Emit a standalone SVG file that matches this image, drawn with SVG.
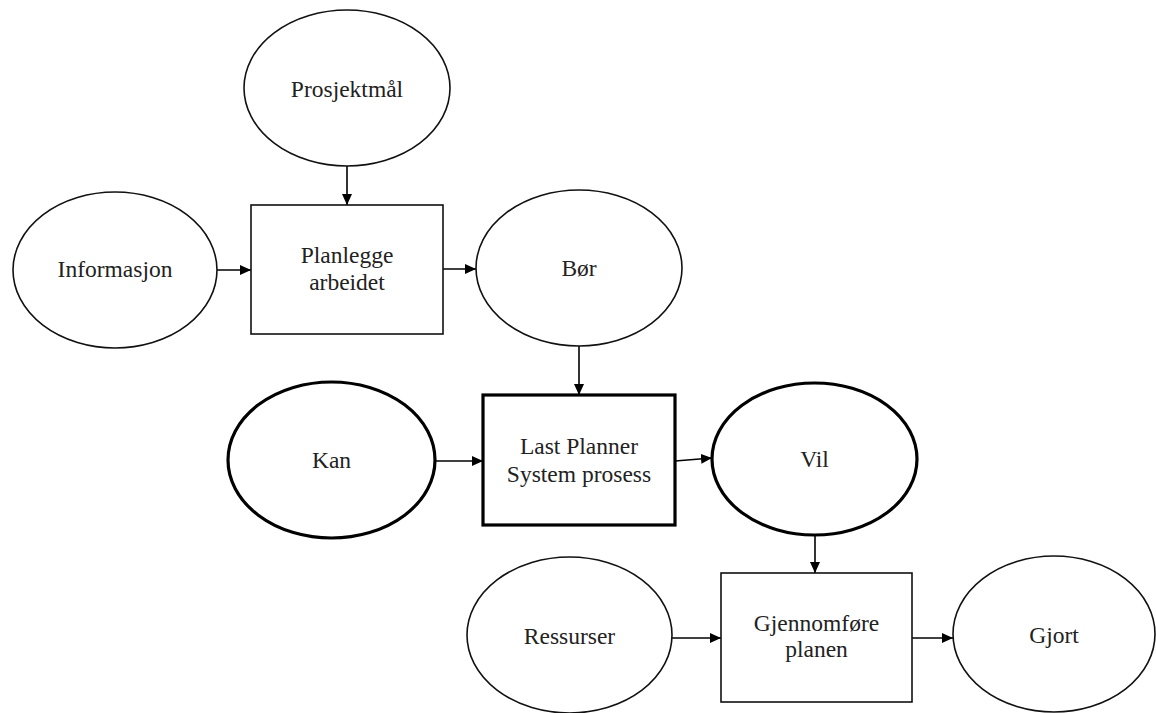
<svg xmlns="http://www.w3.org/2000/svg" width="1156" height="713" viewBox="0 0 1156 713">
<style>
.n{fill:#fff;stroke:#111;stroke-width:1.6}
.b{fill:#fff;stroke:#000;stroke-width:3.2}
.t{font-family:"Liberation Serif","Times New Roman",serif;font-size:23.5px;fill:#222;text-anchor:middle}
.c{stroke:#000;stroke-width:1.6;fill:none;marker-end:url(#ah)}
</style>
<defs>
<marker id="ah" markerUnits="userSpaceOnUse" markerWidth="12" markerHeight="10" refX="11" refY="5" orient="auto">
<path d="M0,0 L11,5 L0,10 Z" fill="#000"/>
</marker>
</defs>
<rect width="1156" height="713" fill="#fff"/>
<g id="connectors">
<line class="c" x1="347" y1="166" x2="347" y2="205"/>
<line class="c" x1="217" y1="270" x2="251" y2="270"/>
<line class="c" x1="443" y1="269" x2="476" y2="269"/>
<line class="c" x1="579" y1="346" x2="579" y2="395"/>
<line class="c" x1="435" y1="461" x2="483" y2="461"/>
<line class="c" x1="675" y1="461" x2="712" y2="458"/>
<line class="c" x1="815" y1="535" x2="815" y2="573"/>
<line class="c" x1="672" y1="638" x2="721" y2="638"/>
<line class="c" x1="912" y1="638" x2="953" y2="638"/>
</g>
<g id="prosjektmal">
<ellipse class="n" cx="347" cy="88" rx="103" ry="78"/>
<text class="t" x="347" y="97">Prosjektmål</text>
</g>
<g id="informasjon">
<ellipse class="n" cx="115" cy="270" rx="102" ry="78"/>
<text class="t" x="115" y="277">Informasjon</text>
</g>
<g id="planlegge">
<rect class="n" x="251" y="205" width="192" height="129"/>
<text class="t" x="347" y="263">Planlegge</text>
<text class="t" x="347" y="290">arbeidet</text>
</g>
<g id="bor">
<ellipse class="n" cx="579" cy="268" rx="103" ry="78"/>
<text class="t" x="579" y="276">Bør</text>
</g>
<g id="kan">
<ellipse class="b" cx="331.5" cy="460" rx="103.5" ry="78"/>
<text class="t" x="331.5" y="468">Kan</text>
</g>
<g id="lps">
<rect class="b" x="483" y="395" width="192" height="130"/>
<text class="t" x="579" y="454">Last Planner</text>
<text class="t" x="579" y="482">System prosess</text>
</g>
<g id="vil">
<ellipse class="b" cx="814.5" cy="459" rx="102.5" ry="76"/>
<text class="t" x="814.5" y="467">Vil</text>
</g>
<g id="ressurser">
<ellipse class="n" cx="569.5" cy="635" rx="102.5" ry="78"/>
<text class="t" x="569.5" y="644">Ressurser</text>
</g>
<g id="gjennomfore">
<rect class="n" x="721" y="573" width="191" height="129"/>
<text class="t" x="816.5" y="631">Gjennomføre</text>
<text class="t" x="816.5" y="657">planen</text>
</g>
<g id="gjort">
<ellipse class="n" cx="1054" cy="634" rx="101" ry="78"/>
<text class="t" x="1054" y="643">Gjort</text>
</g>
</svg>
